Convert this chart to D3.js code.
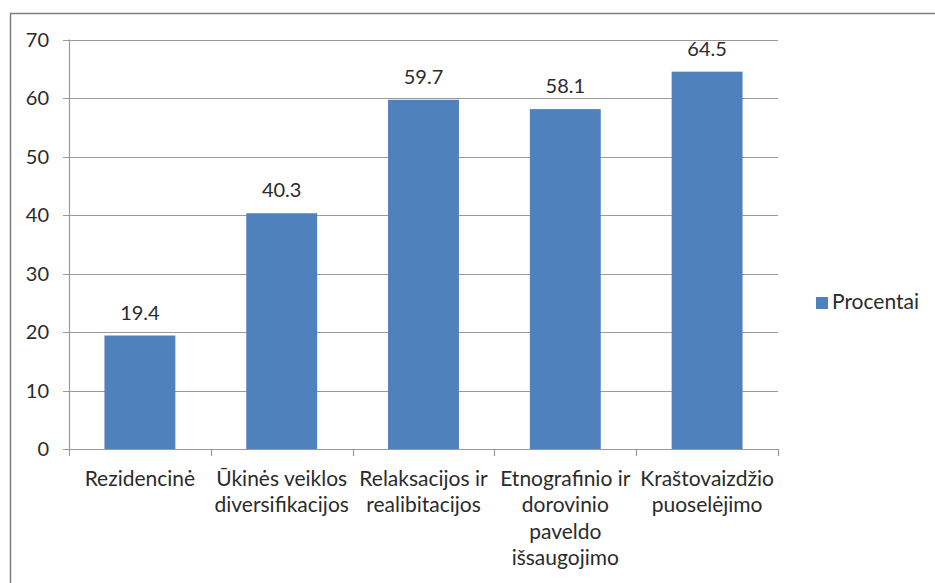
<!DOCTYPE html>
<html>
<head>
<meta charset="utf-8">
<script src="https://cdn.jsdelivr.net/npm/d3@7"></script>
<style>
  body { margin: 0; background: #fff; }
  svg { display: block; font-family: Lato, "Open Sans", sans-serif; }
</style>
</head>
<body>
<svg id="chart" width="935" height="583"></svg>
<script>
// chart data
const categories = [
  ["Rezidencinė"],
  ["Ūkinės veiklos", "diversifikacijos"],
  ["Relaksacijos ir", "realibitacijos"],
  ["Etnografinio ir", "dorovinio", "paveldo", "išsaugojimo"],
  ["Kraštovaizdžio", "puoselėjimo"]
];
const procentai = [19.4, 40.3, 59.7, 58.1, 64.5];
const yTicks = [0, 10, 20, 30, 40, 50, 60, 70];
const seriesName = "Procentai";

const svg = d3.select("#chart");
const numSize = 20;
const labelSize = 21;
const textColor = "#2b2b2b";
const barColor = "#4f81bd";
const gridColor = "#9a9a9a";

// outer chart border
svg.append("rect")
  .attr("x", 10.5).attr("y", 13.5)
  .attr("width", 1000).attr("height", 1000)
  .attr("fill", "none")
  .attr("stroke", "#7f7f7f")
  .attr("stroke-width", 1.5);

const plotLeft = 69, plotRight = 778, plotTop = 39.5, plotBottom = 449;

var x = d3.scaleBand()
  .domain(d3.range(categories.length))
  .range([plotLeft, plotRight])
  .paddingInner(0.5)
  .paddingOuter(0.25);

var xGroups = d3.scaleBand()
  .domain(d3.range(categories.length))
  .range([plotLeft, plotRight]);

var y = d3.scaleLinear()
  .domain([0, 70])
  .range([plotBottom, plotTop]);

// horizontal gridlines + y ticks
svg.append("g")
  .selectAll("line")
  .data(yTicks)
  .enter()
  .append("line")
  .attr("x1", plotLeft - 6)
  .attr("x2", plotRight)
  .attr("y1", function(d) { return Math.round(y(d)) + 0.5; })
  .attr("y2", function(d) { return Math.round(y(d)) + 0.5; })
  .attr("stroke", gridColor)
  .attr("stroke-width", 1.2);

svg.append("g")
  .selectAll("text")
  .data(yTicks)
  .enter()
  .append("text")
  .attr("x", 49)
  .attr("y", function(d) { return y(d); })
  .attr("dy", "0.36em")
  .attr("text-anchor", "end")
  .attr("font-size", numSize)
  .attr("fill", textColor)
  .text(function(d) { return d; });

// bars
svg.append("g")
  .selectAll("rect")
  .data(procentai)
  .enter()
  .append("rect")
  .attr("x", function(d, i) { return x(i); })
  .attr("y", function(d) { return y(d); })
  .attr("width", x.bandwidth())
  .attr("height", function(d) { return y(0) - y(d); })
  .attr("fill", barColor);

// data labels
svg.append("g")
  .selectAll("text")
  .data(procentai)
  .enter()
  .append("text")
  .attr("x", function(d, i) { return x(i) + x.bandwidth() / 2; })
  .attr("y", function(d) { return y(d) - 16; })
  .attr("text-anchor", "middle")
  .attr("font-size", numSize)
  .attr("fill", textColor)
  .text(function(d) { return d.toFixed(1); });

// y axis line
svg.append("line")
  .attr("x1", plotLeft + 0.5).attr("x2", plotLeft + 0.5)
  .attr("y1", plotTop).attr("y2", plotBottom + 0.5)
  .attr("stroke", gridColor)
  .attr("stroke-width", 1.2);

// x axis line + category boundary ticks
var boundaries = d3.range(categories.length + 1).map(function(i) {
  return i < categories.length ? xGroups(i) : plotRight;
});
svg.append("line")
  .attr("x1", plotLeft).attr("x2", plotRight)
  .attr("y1", Math.round(plotBottom) + 0.5).attr("y2", Math.round(plotBottom) + 0.5)
  .attr("stroke", gridColor)
  .attr("stroke-width", 1.2);
svg.append("g")
  .selectAll("line")
  .data(boundaries)
  .enter()
  .append("line")
  .attr("x1", function(d) { return Math.round(d) + 0.5; })
  .attr("x2", function(d) { return Math.round(d) + 0.5; })
  .attr("y1", plotBottom)
  .attr("y2", plotBottom + 7)
  .attr("stroke", gridColor)
  .attr("stroke-width", 1.2);

// category labels, one tspan per line
var catLabels = svg.append("g")
  .selectAll("text")
  .data(categories)
  .enter()
  .append("text")
  .attr("text-anchor", "middle")
  .attr("font-size", labelSize)
  .attr("fill", textColor);
catLabels.selectAll("tspan")
  .data(function(d, i) { return d.map(function(line) { return { line: line, i: i }; }); })
  .enter()
  .append("tspan")
  .attr("x", function(d) { return xGroups(d.i) + xGroups.bandwidth() / 2; })
  .attr("y", function(d, j) { return 486 + j * 26.3; })
  .text(function(d) { return d.line; });

// legend
var legend = svg.append("g").attr("transform", "translate(816,297)");
legend.append("rect")
  .attr("width", 12).attr("height", 12)
  .attr("fill", barColor);
legend.append("text")
  .attr("x", 16)
  .attr("y", 12)
  .attr("font-size", labelSize)
  .attr("fill", textColor)
  .text(seriesName);
</script>
</body>
</html>
